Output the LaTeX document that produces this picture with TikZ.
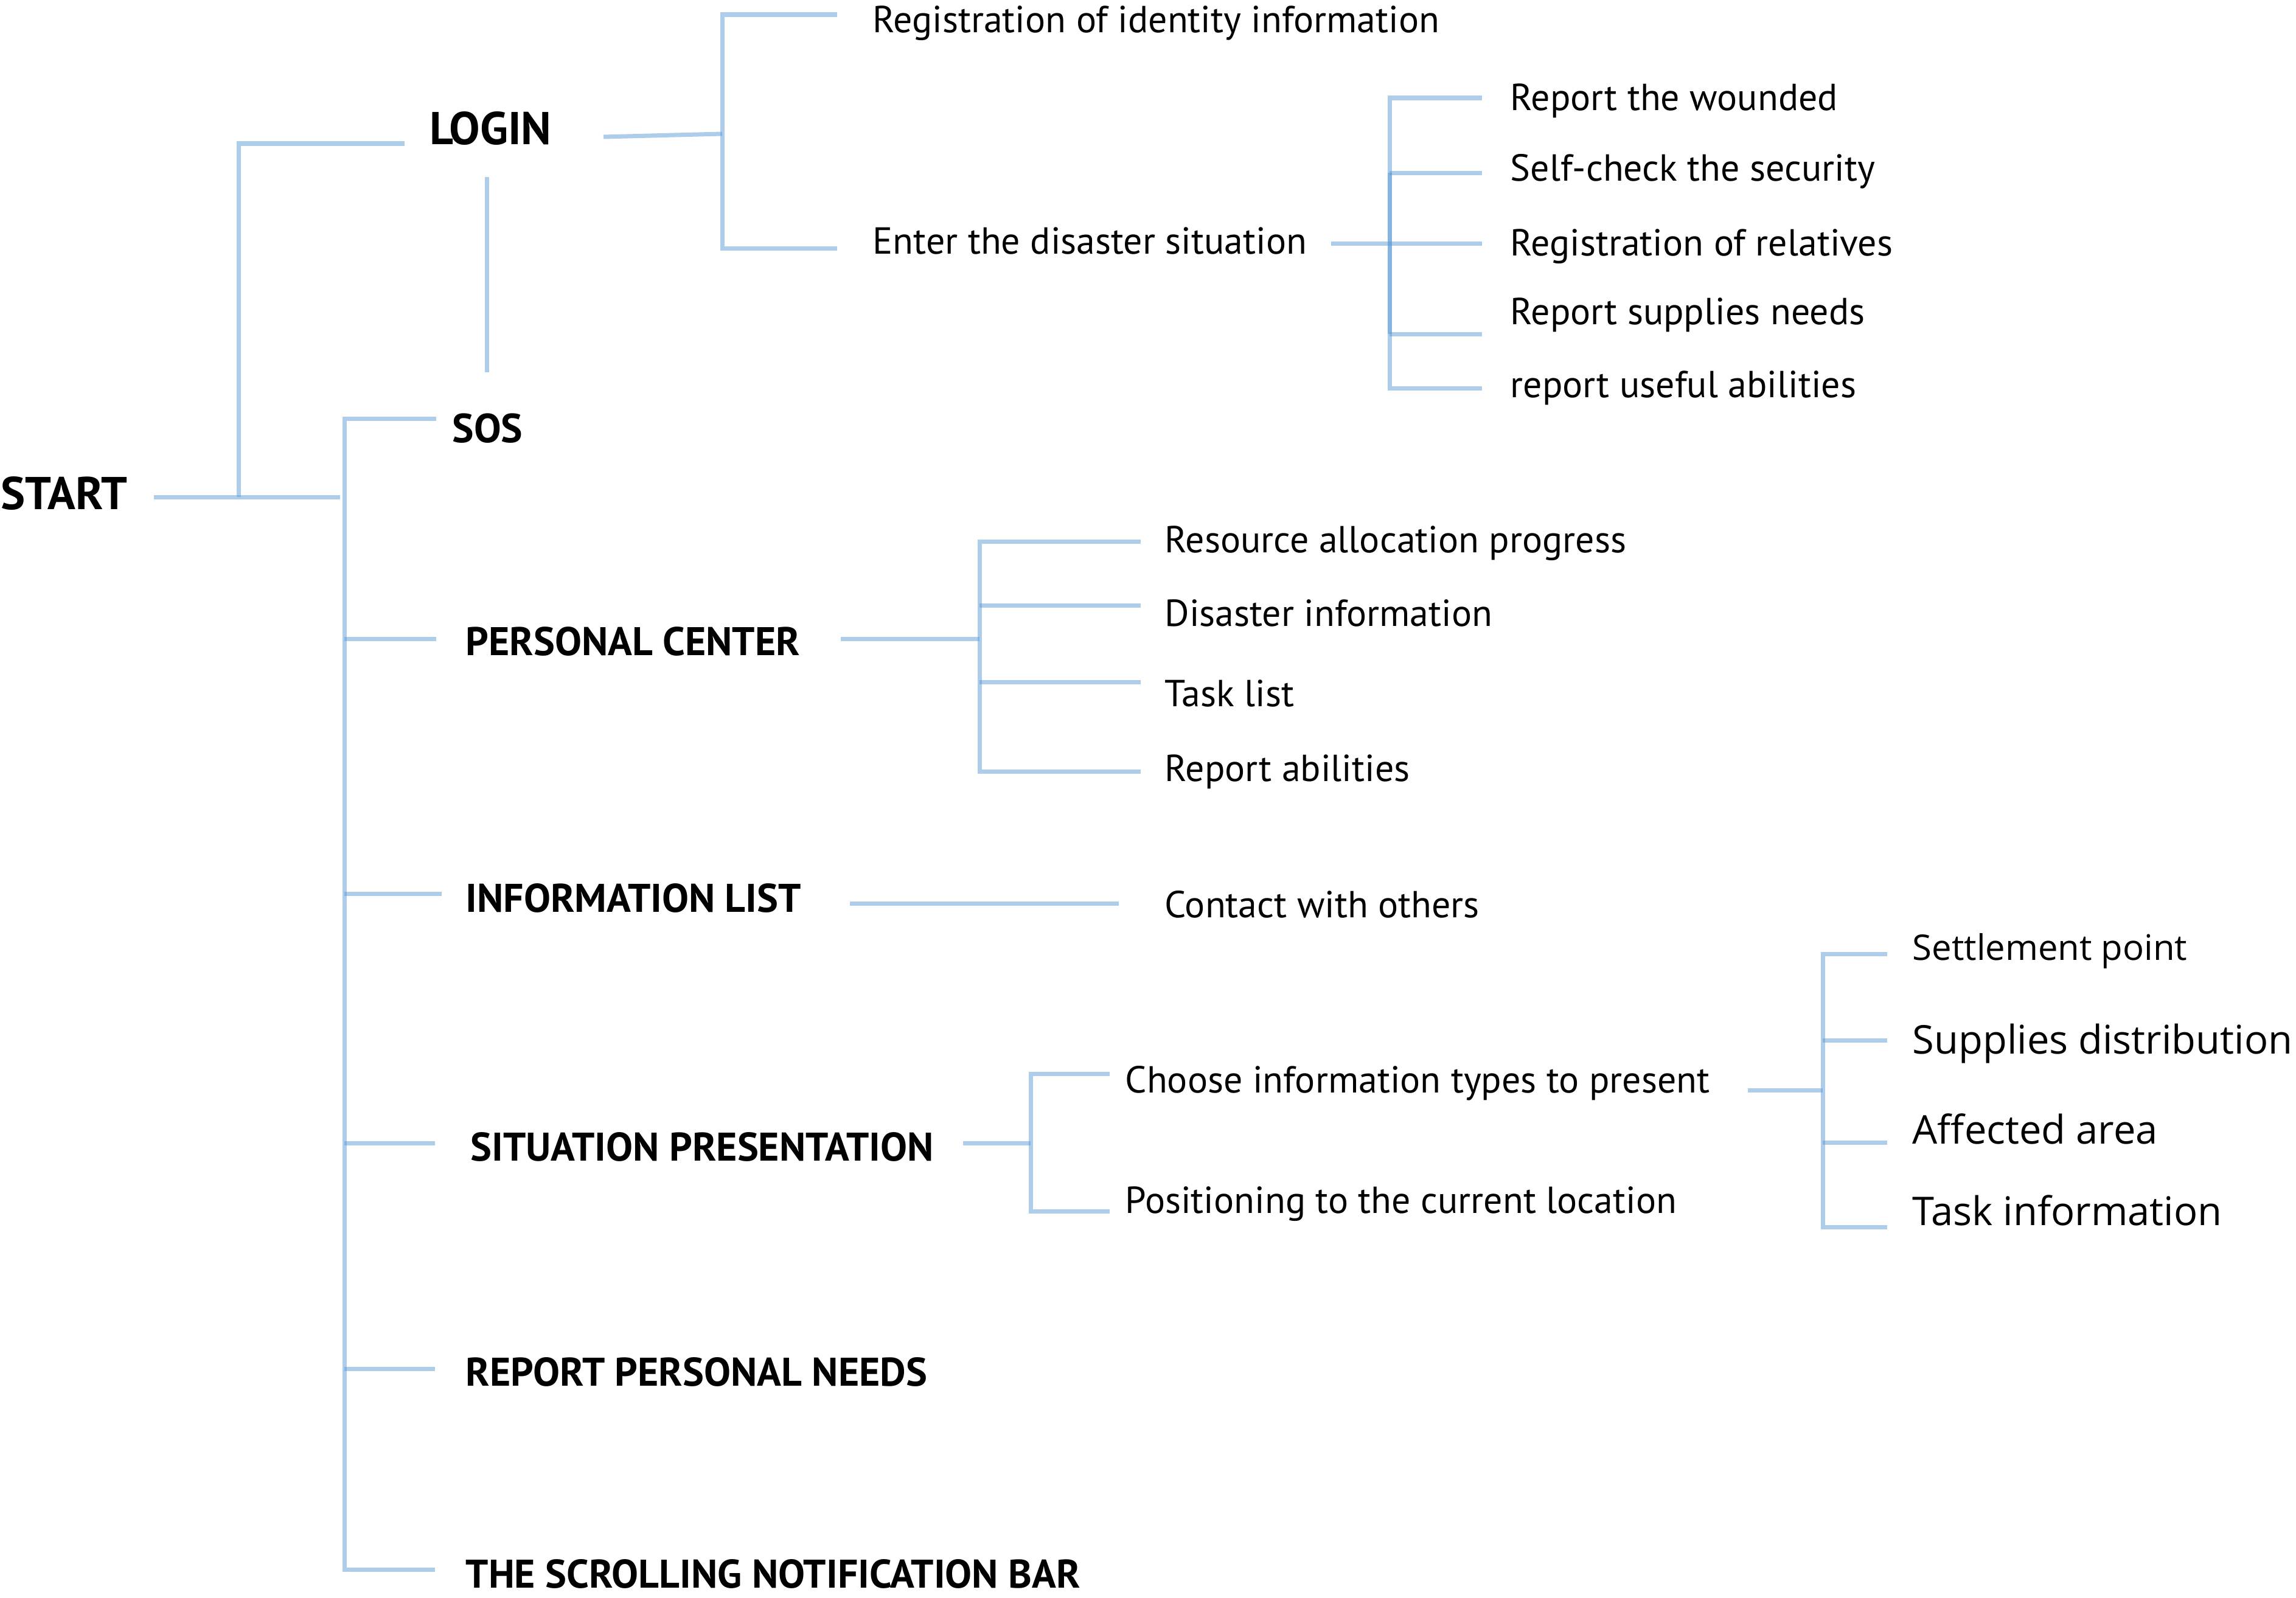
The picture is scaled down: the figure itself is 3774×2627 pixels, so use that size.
\documentclass[tikz,border=0pt]{standalone}
\usepackage{fontspec}
\setmainfont{PT Sans}
\newfontfamily\segoe{Open Sans}
\definecolor{lb}{RGB}{91,155,213}
\tikzset{
  ln/.style={draw=lb, draw opacity=0.5, line width=0.07cm, line join=miter},
  hdbig/.style={font=\fontsize{21.5}{24}\selectfont\bfseries, inner sep=0pt, anchor=base west},
  hdsos/.style={font=\fontsize{19}{22}\selectfont\bfseries, inner sep=0pt, anchor=base west},
  hd/.style={font=\fontsize{18.7}{22}\selectfont\bfseries, inner sep=0pt, anchor=base west},
  rg/.style={font=\fontsize{17.6}{20}\selectfont, inner sep=0pt, anchor=base west},
  sg/.style={font=\segoe\fontsize{18.5}{22}\selectfont, inner sep=0pt, anchor=base west},
  sgs/.style={font=\segoe\fontsize{16.5}{20}\selectfont, inner sep=0pt, anchor=base west},
}
\begin{document}
\begin{tikzpicture}[x=0.01cm,y=-0.01cm]
\useasboundingbox (0,0) rectangle (3774,2627);

% ---------- text nodes ----------
\node[hdbig] (start) at (1,837) {START};
\node[hdbig] (login) at (706,237) {LOGIN};
\node[hdsos] (sos) at (743,727) {SOS};
\node[hd] (pc) at (765,1077) {PERSONAL CENTER};
\node[hd] (il) at (765,1499) {INFORMATION LIST};
\node[hd] (sp) at (773,1908) {SITUATION PRESENTATION};
\node[hd] (rpn) at (765,2278) {REPORT PERSONAL NEEDS};
\node[hd] (snb) at (765,2610) {THE SCROLLING NOTIFICATION BAR};

\node[rg] (rid) at (1434,53) {Registration of identity information};
\node[rg] (eds) at (1434,417) {Enter the disaster situation};
\node[rg] (rw) at (2482,181) {Report the wounded};
\node[rg] (sc) at (2482,297) {Self-check the security};
\node[rg] (rr) at (2482,420) {Registration of relatives};
\node[rg] (rs) at (2482,533) {Report supplies needs};
\node[rg] (ru) at (2482,653) {report useful abilities};

\node[rg] (rap) at (1914,908) {Resource allocation progress};
\node[rg] (di) at (1914,1029) {Disaster information};
\node[rg] (tl) at (1914,1161) {Task list};
\node[rg] (ra) at (1914,1284) {Report abilities};
\node[rg] (cwo) at (1914,1508) {Contact with others};
\node[rg] (cit) at (1849,1796) {Choose information types to present};
\node[rg] (ptc) at (1849,1994) {Positioning to the current location};

\node[sgs] (stp) at (3143,1578) {Settlement point};
\node[sg] (sd) at (3143,1732) {Supplies distribution};
\node[sg] (aa) at (3143,1880) {Affected area};
\node[sg] (ti) at (3143,2014) {Task information};

% ---------- junction coordinates ----------
\coordinate (s0) at (253,817);
\coordinate (s1) at (392,817);
\coordinate (s2) at (559,817);
\coordinate (l0) at (392,236);
\coordinate (l1) at (665,236);
\coordinate (v0) at (800,291);
\coordinate (v1) at (800,612);
\coordinate (t0) at (717,688);
\coordinate (t1) at (566,688);
\coordinate (t2) at (566,2580);
\coordinate (t3) at (715,2580);
\coordinate (tpc) at (566,1050);  \coordinate (tpce) at (717,1050);
\coordinate (til) at (566,1469);  \coordinate (tile) at (726,1469);
\coordinate (tsp) at (566,1879);  \coordinate (tspe) at (715,1879);
\coordinate (trp) at (566,2250);  \coordinate (trpe) at (715,2250);

\coordinate (la) at (992,225);
\coordinate (lb1) at (1187,220);
\coordinate (lt) at (1376,24);
\coordinate (ltc) at (1187,24);
\coordinate (lbc) at (1187,408);
\coordinate (lbe) at (1376,408);

\coordinate (ea) at (2188,400);
\coordinate (eb) at (2284,400);
\coordinate (e1) at (2436,161);  \coordinate (e1c) at (2284,161);
\coordinate (e2) at (2436,284);  \coordinate (e2c) at (2284,284);
\coordinate (e3) at (2436,400);
\coordinate (e4) at (2436,549);  \coordinate (e4c) at (2284,549);
\coordinate (e5) at (2436,638);  \coordinate (e5c) at (2284,638);

\coordinate (pa) at (1382,1050);
\coordinate (pb) at (1610,1050);
\coordinate (p1) at (1875,890);  \coordinate (p1c) at (1610,890);
\coordinate (p2) at (1875,995);  \coordinate (p2c) at (1610,995);
\coordinate (p3) at (1875,1121); \coordinate (p3c) at (1610,1121);
\coordinate (p4) at (1875,1268); \coordinate (p4c) at (1610,1268);

\coordinate (ia) at (1397,1485);
\coordinate (ib) at (1839,1485);

\coordinate (qa) at (1583,1879);
\coordinate (qb) at (1694,1879);
\coordinate (q1) at (1824,1765); \coordinate (q1c) at (1694,1765);
\coordinate (q2) at (1824,1991); \coordinate (q2c) at (1694,1991);

\coordinate (ca) at (2873,1792);
\coordinate (cb) at (2996,1792);
\coordinate (c1) at (3102,1568); \coordinate (c1c) at (2996,1568);
\coordinate (c2) at (3102,1710); \coordinate (c2c) at (2996,1710);
\coordinate (c3) at (3102,1878); \coordinate (c3c) at (2996,1878);
\coordinate (c4) at (3102,2017); \coordinate (c4c) at (2996,2017);

% ---------- connectors ----------
\draw[ln] (s0) -- (s2);
\draw[ln] (s1) -- (l0) -- (l1);
\draw[ln] (v0) -- (v1);
\draw[ln] (t0) -- (t1) -- (t2) -- (t3);
\draw[ln] (tpc) -- (tpce);
\draw[ln] (til) -- (tile);
\draw[ln] (tsp) -- (tspe);
\draw[ln] (trp) -- (trpe);

\draw[ln] (la) -- (lb1);
\draw[ln] (lt) -- (ltc) -- (lbc) -- (lbe);

\draw[ln] (ea) -- (e3);
\draw[ln] (e1) -- (e1c) -- (e5c) -- (e5);
\draw[ln] (e2c) -- (e2);
\draw[ln] (e4c) -- (e4);
\draw[ln] (e2c) -- (e4c);

\draw[ln] (pa) -- (pb);
\draw[ln] (p1) -- (p1c) -- (p4c) -- (p4);
\draw[ln] (p2c) -- (p2);
\draw[ln] (p3c) -- (p3);

\draw[ln] (ia) -- (ib);

\draw[ln] (qa) -- (qb);
\draw[ln] (q1) -- (q1c) -- (q2c) -- (q2);

\draw[ln] (ca) -- (cb);
\draw[ln] (c1) -- (c1c) -- (c4c) -- (c4);
\draw[ln] (c2c) -- (c2);
\draw[ln] (c3c) -- (c3);
\end{tikzpicture}
\end{document}
